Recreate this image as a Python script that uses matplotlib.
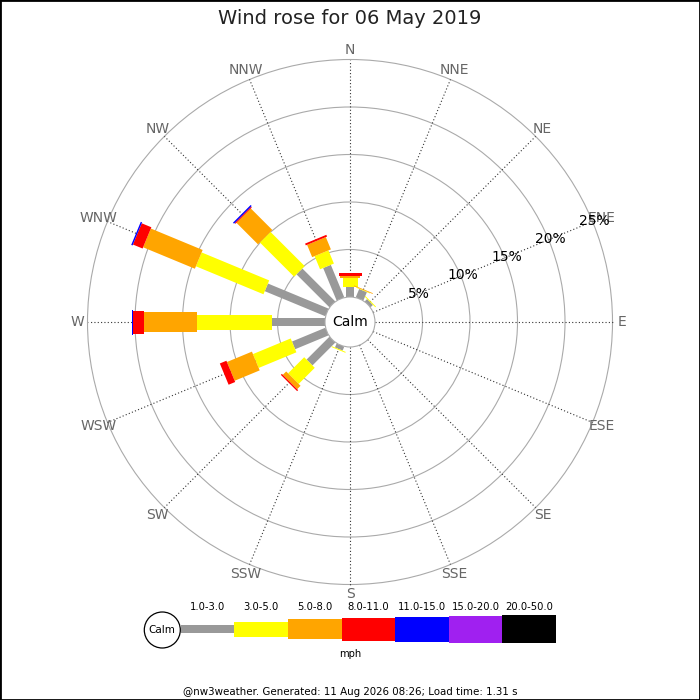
import numpy as np
import matplotlib
matplotlib.use("Agg")
import matplotlib.pyplot as plt
from matplotlib.patches import Polygon, Circle, Rectangle

# ---------------- data ----------------
directions = ['N', 'NNE', 'NE', 'ENE', 'E', 'ESE', 'SE', 'SSE',
              'S', 'SSW', 'SW', 'WSW', 'W', 'WNW', 'NW', 'NNW']
speed_bins = ['1.0-3.0', '3.0-5.0', '5.0-8.0', '8.0-11.0',
              '11.0-15.0', '15.0-20.0', '20.0-50.0']
bin_colors = ['#999999', '#ffff00', '#ffa500', '#ff0000',
              '#0000ff', '#a020f0', '#000000']

#            N     NNE   NE   ENE  E  ESE SE SSE S  SSW   SW   WSW   W    WNW   NW    NNW
s_1_3   = [1.08, 0.95, 0.35, 0, 0, 0, 0, 0, 0, 0.45, 3.40, 3.80, 5.60, 6.90, 4.90, 3.70]
s_3_5   = [0.89, 0.06, 0.10, 0, 0, 0, 0, 0, 0, 0.10, 2.40, 4.30, 7.90, 7.70, 5.10, 1.50]
s_5_8   = [0.24, 0.08, 0.00, 0, 0, 0, 0, 0, 0, 0.00, 0.50, 2.85, 5.60, 5.90, 3.20, 1.40]
s_8_11  = [0.28, 0.00, 0.00, 0, 0, 0, 0, 0, 0, 0.00, 0.15, 0.75, 1.10, 1.10, 0.12, 0.20]
s_11_15 = [0.00, 0.00, 0.00, 0, 0, 0, 0, 0, 0, 0.00, 0.00, 0.00, 0.10, 0.15, 0.15, 0.00]
s_15_20 = [0] * 16
s_20_50 = [0] * 16

ring_values = [5, 10, 15, 20, 25]
ring_labels = ['5%', '10%', '15%', '20%', '25%']
title = 'Wind rose for 06 May 2019'
footer = '@nw3weather. Generated: 11 Aug 2026 08:26; Load time: 1.31 s'
units = 'mph'

series = [s_1_3, s_3_5, s_5_8, s_8_11, s_11_15, s_15_20, s_20_50]

# ---------------- layout ----------------
PX = 9.5            # pixels per percent
CALM = 25 / PX      # calm circle radius in percent units
CX, CY = 350, 322   # centre in pixels (from top)
bar_px = [8.3, 15, 20.3, 23, 25, 27, 28.3]

fig = plt.figure(figsize=(7, 7), dpi=100)
fig.patch.set_facecolor('white')
ax = fig.add_axes([0, 0, 1, 1])
ax.set_xlim(-CX / PX, (700 - CX) / PX)
ax.set_ylim(-(700 - CY) / PX, CY / PX)
ax.set_aspect('equal')
ax.axis('off')

rmax = CALM + ring_values[-1]

# rings
for v in ring_values:
    ax.add_patch(Circle((0, 0), CALM + v, fill=False, edgecolor='#aaaaaa',
                        lw=0.8, zorder=1))

# radial dotted lines and direction labels
for i, d in enumerate(directions):
    th = np.deg2rad(i * 22.5)
    ux, uy = np.sin(th), np.cos(th)
    ax.plot([CALM * ux, rmax * ux], [CALM * uy, rmax * uy],
            color='#333333', lw=0.8, ls=(0, (1, 2)), zorder=1)
    rl = rmax + 1.05
    ax.text(rl * ux, rl * uy, d, ha='center', va='center', fontsize=10,
            color='#666666', zorder=5)

# stacked bars
for i in range(len(directions)):
    th = np.deg2rad(i * 22.5)
    u = np.array([np.sin(th), np.cos(th)])
    v = np.array([np.cos(th), -np.sin(th)])
    r0 = CALM
    for k, s in enumerate(series):
        val = s[i]
        if val <= 0:
            continue
        r1 = r0 + val
        hw = bar_px[k] / PX / 2
        pts = [r0 * u + hw * v, r1 * u + hw * v, r1 * u - hw * v, r0 * u - hw * v]
        ax.add_patch(Polygon(pts, closed=True, facecolor=bin_colors[k],
                             edgecolor='none', zorder=3))
        r0 = r1

# calm circle
ax.add_patch(Circle((0, 0), CALM, facecolor='white', edgecolor='#aaaaaa',
                    lw=0.8, zorder=4))
ax.text(0, 0, 'Calm', ha='center', va='center', fontsize=10, color='black',
        zorder=6)

# ring labels along ENE
th = np.deg2rad(67.5)
for v, lab in zip(ring_values, ring_labels):
    r = CALM + v + 0.2
    ax.text(r * np.sin(th), r * np.cos(th), lab, ha='center', va='center',
            fontsize=10, color='black', zorder=6)

# ---------------- legend (pixel coords) ----------------
lax = fig.add_axes([0, 0, 1, 1])
lax.set_xlim(0, 700)
lax.set_ylim(700, 0)
lax.axis('off')
lax.patch.set_alpha(0)

lax.add_patch(Circle((162.3, 630), 18, facecolor='white', edgecolor='black',
                     lw=0.9, zorder=4))
lax.text(162.3, 630, 'Calm', ha='center', va='center', fontsize=7.5,
         color='black', zorder=5)
x0 = 180.7
seg_w = 53.6
ymid = 629.2
for k, (lab, col) in enumerate(zip(speed_bins, bin_colors)):
    h = bar_px[k]
    lax.add_patch(Rectangle((x0 + k * seg_w, ymid - h / 2), seg_w, h,
                            facecolor=col, edgecolor='none', zorder=3))
    lax.text(x0 + k * seg_w + seg_w / 2, 607, lab, ha='center', va='center',
             fontsize=7.2, color='black')
lax.text(350.5, 654, units, ha='center', va='center', fontsize=7.2,
         color='black')

# title and footer
fig.text(0.5, 1 - 18 / 700, title, ha='center', va='center', fontsize=14,
         color='#222222')
fig.text(0.5, 1 - 692 / 700, footer, ha='center', va='center', fontsize=7.4,
         color='black')

# border
fig.patches.append(Rectangle((0, 0), 1, 1, transform=fig.transFigure,
                             fill=False, edgecolor='black', lw=2, zorder=10))

fig.savefig('out.png', dpi=100)
